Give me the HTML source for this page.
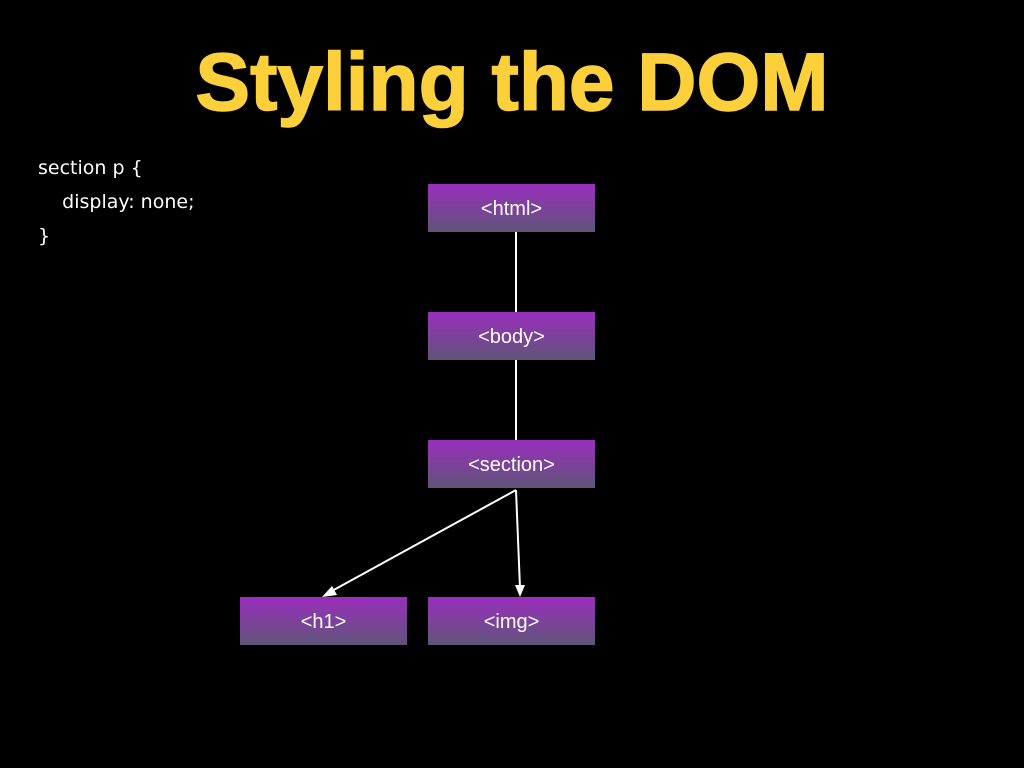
<!DOCTYPE html>
<html><head><style>
body{margin:0;width:1024px;height:768px;background:#000;overflow:hidden;position:relative;font-family:"DejaVu Sans","Liberation Sans",sans-serif}
.t{position:absolute;left:0;width:1024px;top:38px;text-align:center;color:#fcd03a;font-family:"Liberation Sans",sans-serif;font-weight:bold;font-size:82px;letter-spacing:0px;line-height:90px;-webkit-text-stroke:1.5px #fcd03a}
.c{position:absolute;left:38px;color:#fff;font-size:19px;line-height:34px;top:151px;white-space:pre}
.b{position:absolute;width:167px;height:48px;background:linear-gradient(#9a2ebd,#5f5578);color:#fff;font-size:19px;text-align:center;line-height:50px;font-family:"Liberation Sans",sans-serif;font-size:20px}
</style></head><body>
<div class="t">Styling the DOM</div>
<div class="c">section p {
    display: none;
}</div>
<svg style="position:absolute;left:0;top:0" width="1024" height="768">
<g stroke="#fff" stroke-width="2" fill="none">
<line x1="516" y1="232" x2="516" y2="312"/>
<line x1="516" y1="360" x2="516" y2="440"/>
<line x1="516" y1="490" x2="330" y2="592"/>
<line x1="516" y1="490" x2="520" y2="588"/>
</g>
<polygon points="322,597 332,586 337,595" fill="#fff"/>
<polygon points="520,597 515,585 525,585" fill="#fff"/>
</svg>
<div class="b" style="left:428px;top:184px">&lt;html&gt;</div>
<div class="b" style="left:428px;top:312px">&lt;body&gt;</div>
<div class="b" style="left:428px;top:440px">&lt;section&gt;</div>
<div class="b" style="left:240px;top:597px">&lt;h1&gt;</div>
<div class="b" style="left:428px;top:597px">&lt;img&gt;</div>
</body></html>
